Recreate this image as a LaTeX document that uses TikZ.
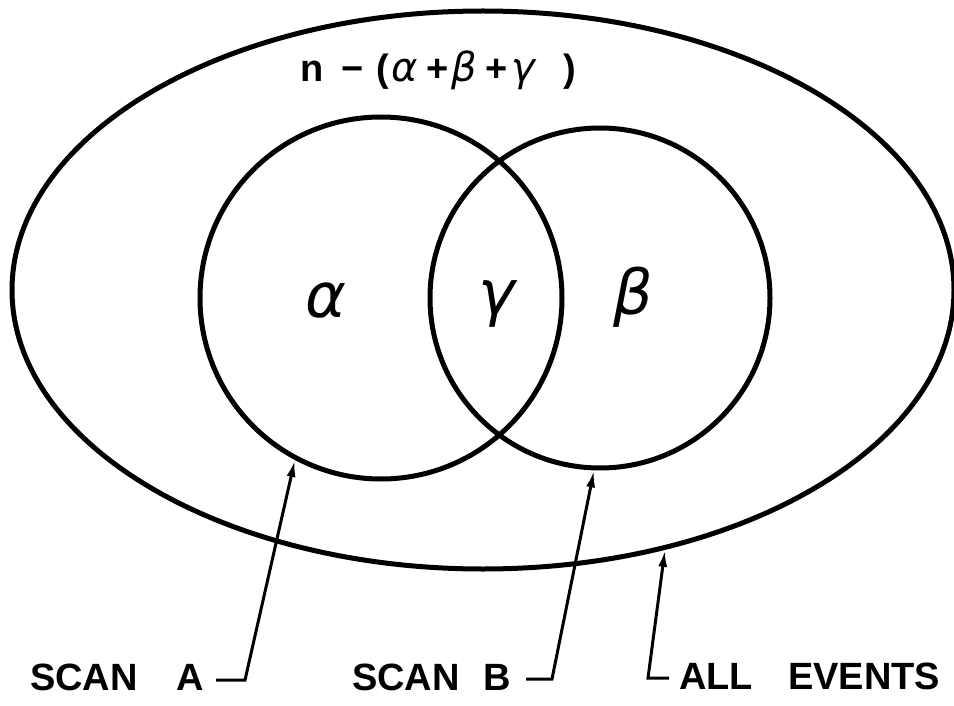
\documentclass[tikz,border=0pt]{standalone}
\usepackage{fontspec}
\setmainfont{Liberation Sans}
\newfontfamily\grkfont{DejaVu Sans}
\usetikzlibrary{arrows.meta,shapes.geometric}
\newcommand\grk[1]{{\grkfont\mdseries\itshape\fontsize{40}{40}\selectfont #1}}
\begin{document}
\begin{tikzpicture}[x=1pt,y=-1pt,
  shapeline/.style={draw, line width=5pt, inner sep=0pt, outer sep=2.5pt},
  arr/.style={line width=3pt, -{Latex[length=17pt,width=9pt]}, line join=miter},
  lbl/.style={font=\bfseries\fontsize{38}{40}\selectfont, inner sep=0pt, anchor=base west},
  big/.style={font=\grkfont\itshape\fontsize{62}{62}\selectfont, inner sep=0pt}]
\useasboundingbox (0,0) rectangle (954,706);
\fill[white] (0,0) rectangle (954,706);
% outer set and the two scans
\node[shapeline, ellipse, minimum width=942pt, minimum height=558pt] (E) at (483,290) {};
\node[shapeline, circle, minimum size=362pt] (A) at (381,298) {};
\node[shapeline, circle, minimum size=340pt] (B) at (600,298) {};
% region labels
\node[big] (al) at (326,300) {α};
\node[big] (ga) at (497,304) {γ};
\node[big] (be) at (633,297) {β};
\node[anchor=base west, inner sep=0pt, font=\bfseries\fontsize{38}{38}\selectfont] (top) at (300,82)
  {\makebox[41pt][l]{n}\makebox[35pt][l]{−}\makebox[15pt][l]{(}\makebox[35pt][l]{\grk{α}}\makebox[25pt][l]{+}\makebox[34pt][l]{\grk{β}}\makebox[26pt][l]{+}\makebox[52pt][l]{\grk{γ}})};
% bottom labels
\node[lbl] (sa) at (30,690) {SCAN\hspace{39pt}A};
\node[lbl] (sb) at (352,690) {SCAN\hspace{24pt}B};
\node[lbl] (ae) at (679,689) {ALL\hspace{35pt}EVENTS};
% connectors
\coordinate (a1) at (216,680);
\coordinate (a2) at (245,680);
\coordinate (b1) at (526,679);
\coordinate (b2) at (552,679);
\coordinate (e1) at (669,678);
\coordinate (e2) at (648,678);
\draw[arr] (a1) -- (a2) -- (A.242);
\draw[arr] (b1) -- (b2) -- (B.268);
\draw[arr] (e1) -- (e2) -- (E.305);
\end{tikzpicture}
\end{document}
